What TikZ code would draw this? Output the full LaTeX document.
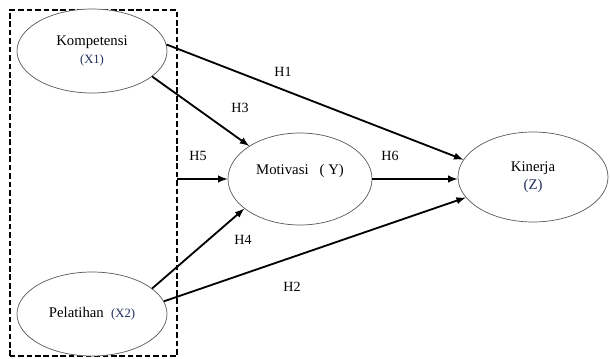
\documentclass[tikz,border=0pt]{standalone}
\usepackage{fontspec}
\setmainfont{Liberation Serif}
\usetikzlibrary{shapes.geometric}
\definecolor{varblue}{rgb}{0.12,0.18,0.36}

\tikzstyle{va}=[ellipse,draw=black!65,line width=0.5pt,fill=white,inner sep=0pt,minimum width=3.75cm,minimum height=2.1cm,align=center,font=\fontsize{10.5}{13}\selectfont]
\tikzstyle{hy}=[rectangle,inner sep=1pt,font=\fontsize{10}{12}\selectfont]
\tikzstyle{ar}=[->,>=latex,line width=1.3pt]

\begin{document}
\begin{tikzpicture}
\useasboundingbox (0,0) rectangle (15.25,8.95);

%Independent variables in dashed box
\draw [dashed,line width=1.2pt,dash pattern=on 4pt off 2pt] (0.25,0.05) rectangle (4.425,8.7);
\node [va] at (2.3,7.675) (ko) {Kompetensi\\ {\fontsize{9}{11}\selectfont\color{varblue}(X1)}};
\node [va] at (2.3,1.1) (pe) {Pelatihan \ {\fontsize{9}{11}\selectfont\color{varblue}(X2)}};

%Intervening and dependent
\node [va,minimum width=3.6cm,minimum height=2.3cm] at (7.5,4.475) (mo) {Motivasi \ \ ( Y)\\ \mbox{}};
\node [va,minimum height=2.25cm] at (13.325,4.525) (ki) {Kinerja\\ {\color{varblue}(Z)}};

\coordinate (bx) at (4.425,4.475);

\draw [ar] (ko.5) -- (ki.166);
\draw [ar] (ko.-23) -- (mo.147);
\draw [ar] (bx) -- (mo.west);
\draw [ar] (mo.east) -- (ki.west |- mo.east);
\draw [ar] (pe.23) -- (mo.208);
\draw [ar] (pe.10) -- (ki.197);

%Hypotheses
\node [hy] at (7.075,7.15) (h1) {H1};
\node [hy] at (6.0,6.25) (h3) {H3};
\node [hy] at (4.95,5.05) (h5) {H5};
\node [hy] at (9.75,5.05) (h6) {H6};
\node [hy] at (6.075,2.95) (h4) {H4};
\node [hy] at (7.3,1.775) (h2) {H2};

\end{tikzpicture}
\end{document}
